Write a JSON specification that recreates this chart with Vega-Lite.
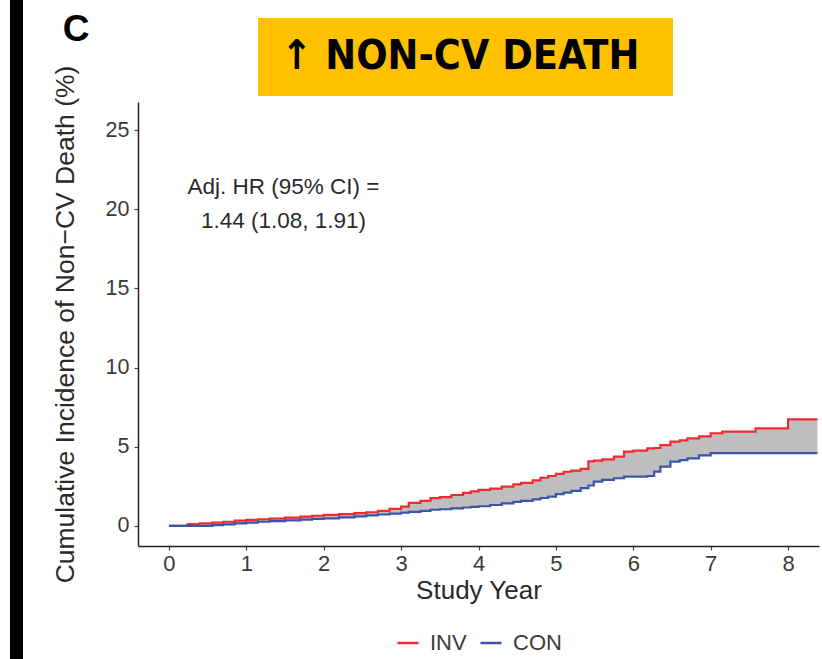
{
  "$schema": "https://vega.github.io/schema/vega-lite/v6.json",
  "padding": {"left": 10, "top": 0, "right": 0, "bottom": 0},
  "background": "white",
  "config": {
    "font": "Liberation Sans",
    "view": {"stroke": null},
    "axis": {"grid": false},
    "legend": {"layout": {"bottom": {"anchor": "middle"}}}
  },
  "datasets": {
    "km": [
      {"t":0,"INV":0,"CON":0},
      {"t":0.24,"INV":0.12,"CON":0},
      {"t":0.4,"INV":0.16,"CON":0},
      {"t":0.56,"INV":0.2,"CON":0.05},
      {"t":0.7,"INV":0.26,"CON":0.1},
      {"t":0.85,"INV":0.33,"CON":0.16},
      {"t":1.0,"INV":0.38,"CON":0.21},
      {"t":1.15,"INV":0.42,"CON":0.26},
      {"t":1.3,"INV":0.46,"CON":0.3},
      {"t":1.5,"INV":0.52,"CON":0.35},
      {"t":1.7,"INV":0.58,"CON":0.4},
      {"t":1.85,"INV":0.64,"CON":0.44},
      {"t":2.0,"INV":0.69,"CON":0.48},
      {"t":2.2,"INV":0.74,"CON":0.54},
      {"t":2.4,"INV":0.8,"CON":0.6},
      {"t":2.55,"INV":0.86,"CON":0.66},
      {"t":2.7,"INV":0.95,"CON":0.72},
      {"t":2.85,"INV":1.08,"CON":0.78},
      {"t":3.0,"INV":1.22,"CON":0.84},
      {"t":3.1,"INV":1.45,"CON":0.88},
      {"t":3.25,"INV":1.58,"CON":0.95},
      {"t":3.38,"INV":1.75,"CON":1.02},
      {"t":3.5,"INV":1.82,"CON":1.05},
      {"t":3.65,"INV":1.95,"CON":1.1},
      {"t":3.8,"INV":2.08,"CON":1.16},
      {"t":3.9,"INV":2.18,"CON":1.2},
      {"t":4.0,"INV":2.27,"CON":1.24},
      {"t":4.15,"INV":2.35,"CON":1.32},
      {"t":4.3,"INV":2.48,"CON":1.42},
      {"t":4.45,"INV":2.62,"CON":1.52},
      {"t":4.55,"INV":2.72,"CON":1.58},
      {"t":4.7,"INV":2.88,"CON":1.68},
      {"t":4.8,"INV":3.04,"CON":1.76},
      {"t":4.9,"INV":3.15,"CON":1.85},
      {"t":5.0,"INV":3.29,"CON":2.0},
      {"t":5.1,"INV":3.42,"CON":2.1},
      {"t":5.2,"INV":3.49,"CON":2.21},
      {"t":5.32,"INV":3.6,"CON":2.38},
      {"t":5.42,"INV":4.07,"CON":2.55},
      {"t":5.49,"INV":4.12,"CON":2.8},
      {"t":5.6,"INV":4.2,"CON":2.9},
      {"t":5.75,"INV":4.38,"CON":3.01},
      {"t":5.88,"INV":4.69,"CON":3.11},
      {"t":6.0,"INV":4.75,"CON":3.11},
      {"t":6.18,"INV":4.9,"CON":3.15},
      {"t":6.27,"INV":4.92,"CON":3.43},
      {"t":6.35,"INV":5.1,"CON":3.74},
      {"t":6.48,"INV":5.32,"CON":4.06},
      {"t":6.6,"INV":5.4,"CON":4.15},
      {"t":6.7,"INV":5.53,"CON":4.27},
      {"t":6.85,"INV":5.65,"CON":4.45},
      {"t":7.0,"INV":5.85,"CON":4.59},
      {"t":7.15,"INV":5.95,"CON":4.6},
      {"t":7.58,"INV":6.16,"CON":4.6},
      {"t":8.0,"INV":6.73,"CON":4.6},
      {"t":8.38,"INV":6.73,"CON":4.6}
    ],
    "note": [
      {"t": 1.48, "pct": 21.4, "label": "Adj. HR (95% CI) =\n 1.44 (1.08, 1.91)"}
    ],
    "blank": [{}]
  },
  "spacing": 29,
  "resolve": {"scale": {"color": "independent"}, "legend": {"color": "independent"}},
  "hconcat": [
    {
      "width": 13,
      "height": 659,
      "view": {"fill": "black", "stroke": null},
      "data": {"name": "blank"},
      "mark": {"type": "text", "text": ""},
      "encoding": {}
    },
    {
      "spacing": -48,
      "resolve": {"scale": {"color": "independent"}, "legend": {"color": "independent"}},
      "hconcat": [
        {
          "width": 48,
          "height": 60,
          "data": {"name": "blank"},
          "mark": {
            "type": "text",
            "text": "C",
            "fontSize": 37,
            "fontWeight": "bold",
            "color": "black",
            "align": "center",
            "baseline": "middle"
          },
          "encoding": {}
        },
        {
          "spacing": -31,
          "resolve": {"scale": {"color": "independent"}, "legend": {"color": "independent"}},
          "vconcat": [
            {
              "spacing": 10,
              "hconcat": [
                {
                  "width": 110,
                  "height": 96,
                  "data": {"name": "blank"},
                  "mark": {"type": "text", "text": ""},
                  "encoding": {}
                },
                {
                  "spacing": 6,
                  "vconcat": [
                    {
                      "width": 10,
                      "height": 12,
                      "data": {"name": "blank"},
                      "mark": {"type": "text", "text": ""},
                      "encoding": {}
                    },
                    {
                      "width": 415,
                      "height": 78,
                      "view": {"fill": "#FFC000", "stroke": null},
                      "data": {"name": "blank"},
                      "mark": {
                        "type": "text",
                        "text": "↑ NON-CV DEATH",
                        "font": "DejaVu Sans Condensed, Liberation Sans",
                        "fontWeight": "bold",
                        "fontSize": 41,
                        "color": "black",
                        "align": "center",
                        "baseline": "middle",
                        "dx": -5
                      },
                      "encoding": {}
                    }
                  ]
                }
              ]
            },
            {
              "width": 681,
              "height": 444,
              "layer": [
                {
                  "data": {"name": "km"},
                  "mark": {"type": "area", "interpolate": "step-after", "color": "#BEBEBE", "opacity": 1},
                  "encoding": {
                    "x": {"field": "t", "type": "quantitative"},
                    "y": {"field": "CON", "type": "quantitative"},
                    "y2": {"field": "INV"}
                  }
                },
                {
                  "data": {"name": "km"},
                  "transform": [{"fold": ["INV", "CON"], "as": ["group", "pct"]}],
                  "mark": {"type": "line", "interpolate": "step-after", "strokeWidth": 2.2},
                  "encoding": {
                    "x": {
                      "field": "t",
                      "type": "quantitative",
                      "scale": {"domain": [-0.4, 8.4], "nice": false, "zero": false},
                      "axis": {
                        "title": "Study Year",
                        "values": [0, 1, 2, 3, 4, 5, 6, 7, 8],
                        "format": "d",
                        "domainColor": "#222",
                        "domainWidth": 1.5,
                        "tickColor": "#444",
                        "tickSize": 4,
                        "tickWidth": 1.2,
                        "labelFontSize": 22,
                        "labelColor": "#3a3a3a",
                        "labelPadding": 3,
                        "titleFontSize": 26,
                        "titleFontWeight": "normal",
                        "titleColor": "#2a2a2a",
                        "titlePadding": 3
                      }
                    },
                    "y": {
                      "field": "pct",
                      "type": "quantitative",
                      "scale": {"domain": [-1.27, 26.77], "nice": false, "zero": false},
                      "axis": {
                        "title": "Cumulative Incidence of Non−CV Death (%)",
                        "values": [0, 5, 10, 15, 20, 25],
                        "format": "d",
                        "domainColor": "#222",
                        "domainWidth": 1.5,
                        "tickColor": "#444",
                        "tickSize": 4,
                        "tickWidth": 1.2,
                        "labelFontSize": 21.5,
                        "labelColor": "#3a3a3a",
                        "labelPadding": 5,
                        "titleFontSize": 26.5,
                        "titleFontWeight": "normal",
                        "titleColor": "#2a2a2a",
                        "titlePadding": 26
                      }
                    },
                    "color": {
                      "field": "group",
                      "type": "nominal",
                      "scale": {"domain": ["INV", "CON"], "range": ["#EF2B31", "#3A55A8"]},
                      "legend": {
                        "title": null,
                        "orient": "bottom",
                        "direction": "horizontal",
                        "symbolType": "stroke",
                        "symbolSize": 441,
                        "symbolStrokeWidth": 2.5,
                        "labelFontSize": 22,
                        "labelColor": "#3a3a3a",
                        "labelOffset": 10,
                        "columnPadding": 8,
                        "offset": 28
                      }
                    }
                  }
                },
                {
                  "data": {"name": "note"},
                  "mark": {
                    "type": "text",
                    "fontSize": 22.5,
                    "color": "#2a2a2a",
                    "align": "center",
                    "baseline": "middle",
                    "lineBreak": "\n",
                    "lineHeight": 34
                  },
                  "encoding": {
                    "x": {"field": "t", "type": "quantitative"},
                    "y": {"field": "pct", "type": "quantitative"},
                    "text": {"field": "label"}
                  }
                }
              ]
            }
          ]
        }
      ]
    }
  ]
}
